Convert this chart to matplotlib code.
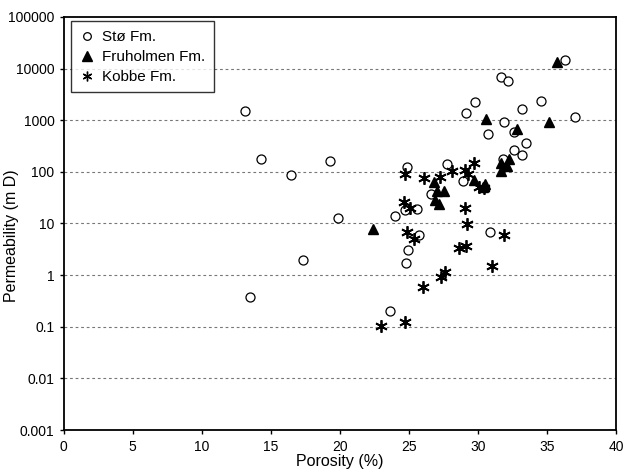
import matplotlib
matplotlib.use("Agg")
import matplotlib.pyplot as plt

plt.rcParams['font.family'] = ['Liberation Sans', 'DejaVu Sans']

# Stø Fm.
sto_x = [13.1, 14.3, 16.5, 19.3, 19.9, 17.3, 13.5, 23.6, 24.0, 24.85, 24.75, 25.6,
         25.7, 24.9, 24.8, 26.6, 27.75, 28.9, 29.1, 29.8, 30.75, 30.85, 31.65, 32.15,
         31.9, 31.8, 32.6, 32.6, 33.2, 33.2, 33.5, 34.55, 36.3, 37.0]
sto_y = [1500, 180, 88, 160, 12.5, 2.0, 0.38, 0.2, 14, 125, 18, 19,
         6.1, 3.1, 1.75, 38, 140, 66, 1380, 2250, 550, 6.8, 7000, 5700,
         920, 178, 580, 265, 1650, 210, 360, 2350, 14700, 1170]

# Fruholmen Fm.
fru_x = [22.4, 26.8, 27.05, 27.55, 26.9, 27.15, 29.7, 30.35, 30.5, 30.55,
         31.7, 31.7, 32.1, 32.25, 32.8, 35.15, 35.7]
fru_y = [7.7, 65, 42, 43, 28, 24, 68, 52, 58, 1070,
         102, 148, 132, 178, 690, 910, 13600]

# Kobbe Fm.
kob_x = [22.95, 24.75, 26.0, 27.3, 27.6, 31.0, 28.6, 29.1, 25.4, 24.85, 31.85, 29.2,
         29.05, 24.65, 25.1, 24.75, 26.1, 27.25, 28.1, 29.05, 29.7, 29.3, 30.05, 30.4]
kob_y = [0.105, 0.122, 0.6, 0.91, 1.15, 1.47, 3.4, 3.7, 5.1, 6.9, 6.0, 9.8,
         19.8, 26, 19.9, 91, 75, 80, 103, 110, 148, 89, 50, 49]

x_ticks = [0, 5, 10, 15, 20, 25, 30, 35, 40]
y_ticks = [0.001, 0.01, 0.1, 1, 10, 100, 1000, 10000, 100000]
y_tick_labels = ['0.001', '0.01', '0.1', '1', '10', '100', '1000', '10000', '100000']

fig = plt.figure(figsize=(6.23, 4.70), dpi=100)
ax = fig.add_axes([0.102, 0.085, 0.887, 0.879])

ax.set_yscale('log')
ax.set_xlim(0, 40)
ax.set_ylim(0.001, 100000)

# dashed gridlines at each decade
for yv in y_ticks[1:-1]:
    ax.axhline(yv, color='#777777', linestyle=(0, (2.5, 2.5)), linewidth=0.8, zorder=1)

ax.plot(sto_x, sto_y, linestyle='none', marker='o', markersize=6.5,
        markerfacecolor='white', markeredgecolor='black', markeredgewidth=0.9,
        label='Stø Fm.', zorder=3)
ax.plot(fru_x, fru_y, linestyle='none', marker='^', markersize=7,
        color='black', label='Fruholmen Fm.', zorder=3)
ax.plot(kob_x, kob_y, linestyle='none', marker=(6, 2, 0), markersize=9,
        markeredgecolor='black', markeredgewidth=1.3,
        label='Kobbe Fm.', zorder=3)

ax.set_xticks(x_ticks)
ax.set_yticks(y_ticks)
ax.set_yticklabels(y_tick_labels)
ax.minorticks_off()
ax.tick_params(axis='both', which='major', labelsize=10, length=3, width=1, direction='out')
ax.tick_params(axis='x', pad=4)

for s in ax.spines.values():
    s.set_linewidth(1.3)

ax.set_xlabel('Porosity (%)', fontsize=11.5, labelpad=0)
ax.set_ylabel('Permeability (m D)', fontsize=11.5)
ax.yaxis.set_label_coords(-0.08, 0.47)

leg = ax.legend(loc='upper left', bbox_to_anchor=(0.013, 0.989), fontsize=11,
                frameon=True, fancybox=False, edgecolor='black',
                handletextpad=0.5, borderpad=0.55, labelspacing=0.4,
                handlelength=1.0, borderaxespad=0)
leg.get_frame().set_linewidth(1.0)
hs = leg.legend_handles
hs[0].set_markersize(5.5)
hs[2].set_markersize(7)
hs[2].set_markeredgewidth(1.0)

fig.savefig('out.png', dpi=100)
